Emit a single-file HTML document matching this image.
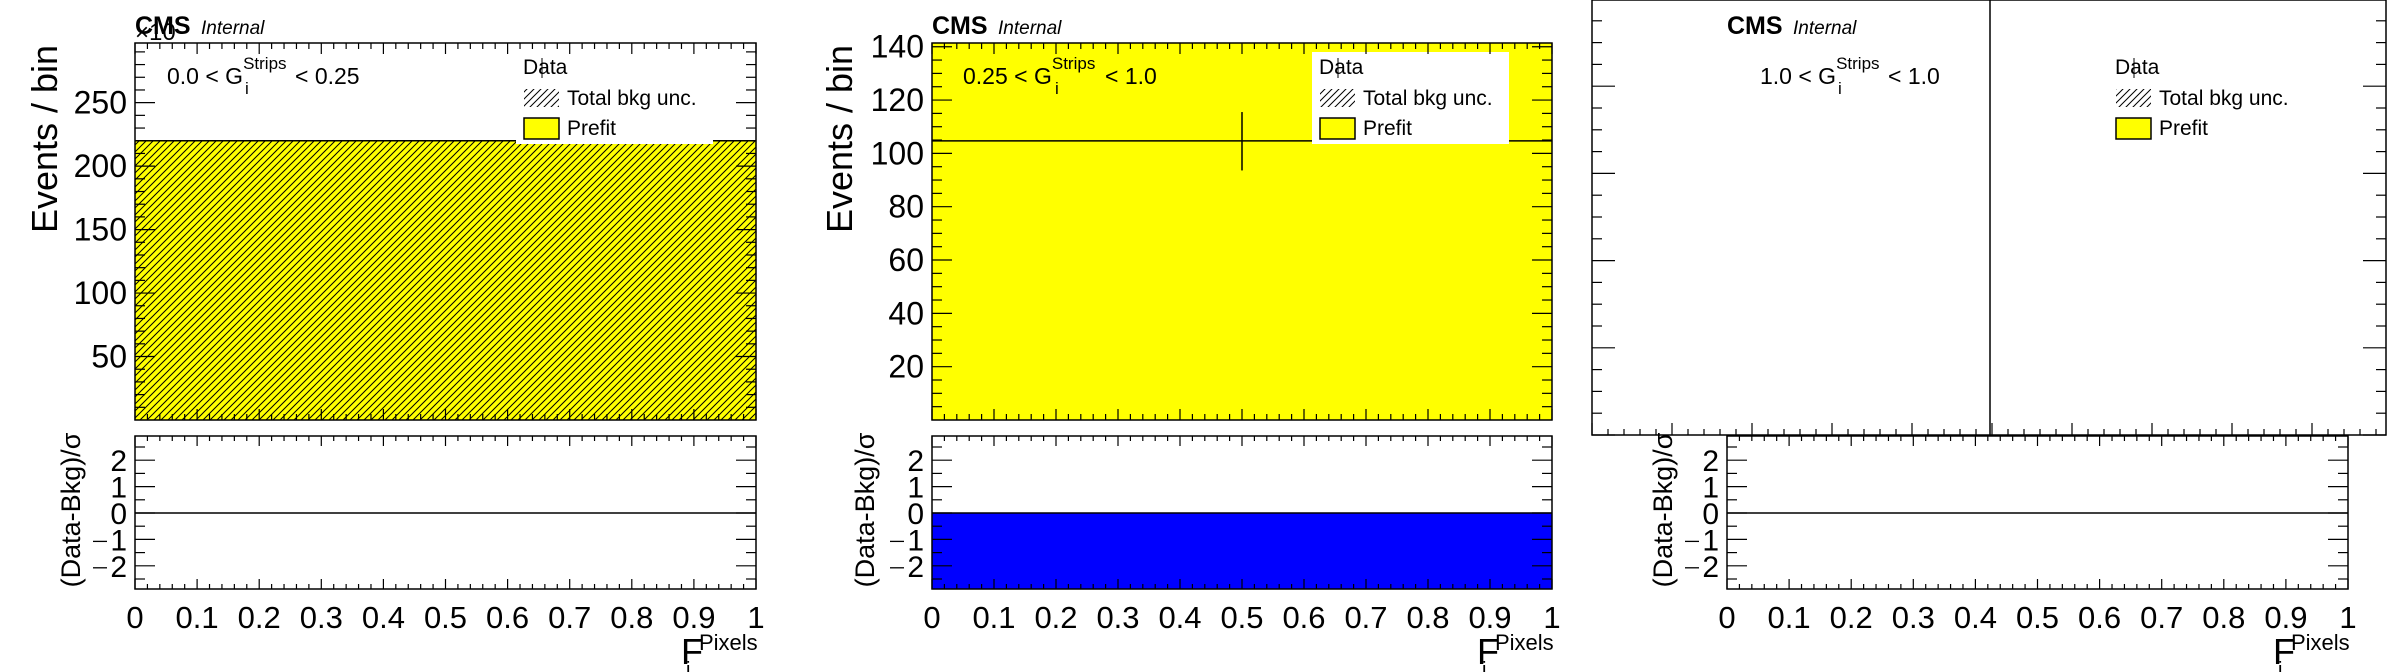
<!DOCTYPE html>
<html><head><meta charset="utf-8">
<style>
html,body{margin:0;padding:0;background:#fff;}
svg{display:block;font-family:"Liberation Sans",sans-serif;}
</style></head>
<body>
<svg id="c" width="2388" height="672" viewBox="0 0 2388 672" xmlns="http://www.w3.org/2000/svg">
<defs>
<pattern id="hatch" patternUnits="userSpaceOnUse" width="7" height="7">
<path d="M-1,8 L8,-1 M-1,1 L1,-1 M6,8 L8,6" stroke="#000" stroke-width="1"/>
</pattern>
</defs>
</svg>
<script>
// ---- data ----
const binEdges = [0, 1];
const xTickLabels = ["0","0.1","0.2","0.3","0.4","0.5","0.6","0.7","0.8","0.9","1"];
const panelLabels = ["0.0 < G", "0.25 < G", "1.0 < G"];
const panelLabelTails = ["< 0.25", "< 1.0", "< 1.0"];
const prefit1 = [220];
const prefit2 = [0];
const data2 = [104.7];
const data2ErrUp = [115.5];
const data2ErrDown = [93.6];
const pull1 = [0];
const pull2 = [-2.9];
const pull3 = [0];
const yMax1 = 297, yMax2 = 141.4;
const yTicks1 = [50,100,150,200,250];
const yTicks2 = [20,40,60,80,100,120,140];
const rTicks = [2,1,0,-1,-2];

const svg = document.getElementById('c');
const NS = "http://www.w3.org/2000/svg";
function el(tag, attrs, parent, text){
  const e = document.createElementNS(NS, tag);
  for (const k in attrs) e.setAttribute(k, attrs[k]);
  if (text !== undefined) e.textContent = text;
  (parent||svg).appendChild(e);
  return e;
}
function line(x1,y1,x2,y2,g,w){ return el('line',{x1,y1,x2,y2,stroke:'#000','stroke-width':w||1.5},g); }

function drawPanel(o){
  const g = el('g',{});
  
  
  const L=o.L,R=o.R,T=43,B=420, rT=436, rB=589;
  const X = v => L + (v-binEdges[0])/(binEdges[1]-binEdges[0])*(R-L);
  const Y = v => B - v/o.yMax*(B-T);
  const RY = v => 513 - v*26.4;

  if (o.upper){
    o.prefit.forEach((v,i)=>{
      if (v<=0) return;
      const r = el('rect',{x:X(binEdges[i]),y:Y(Math.min(v,o.yMax)),width:X(binEdges[i+1])-X(binEdges[i]),height:B-Y(Math.min(v,o.yMax)),fill:'#ffff00'},g);
      
      
      if (o.hatch){
        const h = el('rect',{x:X(binEdges[i]),y:Y(v),width:X(binEdges[i+1])-X(binEdges[i]),height:B-Y(v),fill:'url(#hatch)'},g);
        
        
        line(X(binEdges[i]),Y(v),X(binEdges[i+1]),Y(v),g,1.5);
      }
    });
    if (o.full) el('rect',{x:L,y:T,width:R-L,height:B-T,fill:'#ffff00'},g);
    if (o.data){
      o.data.forEach((v,i)=>{
        const cx=(X(binEdges[i])+X(binEdges[i+1]))/2;
        const dl = line(X(binEdges[i]),Y(v),X(binEdges[i+1]),Y(v),g,1.5);
        
        
        line(cx,Y(o.errUp[i]),cx,Y(o.errDown[i]),g,1.5);
      });
    }
    el('rect',{x:o.lx-7,y:o.lbTop,width:197,height:144-o.lbTop,fill:'#fff'},g);
    el('rect',{x:L,y:T,width:R-L,height:B-T,fill:'none',stroke:'#000','stroke-width':1.5},g);
    for (let v=o.minor; v<o.yMax; v+=(o.minor)){
      const major = o.yTicks.includes(Math.round(v));
      const len = major?20:10;
      line(L,Y(v),L+len,Y(v),g,1.2); line(R,Y(v),R-len,Y(v),g,1.2);
    }
    o.yTicks.forEach(v=>{
      const t = el('text',{x:L-8,y:Y(v)+11,'font-size':32,'text-anchor':'end'},g,String(v));
      
      
    });
    for (let k=0;k<=50;k++){
      const x = L + k/50*(R-L); const len = k%5===0?11:6;
      line(x,T,x,T+len,g,1.2); line(x,B,x,B-len,g,1.2);
    }
    const yt = el('text',{x:0,y:0,'font-size':36,'text-anchor':'middle',transform:`translate(${o.ytx},139) rotate(-90)`},g,'Events / bin');
    
    
  }
  const cms = el('text',{x:L,y:34,'font-size':25,'font-weight':'bold'},g,'CMS');
  
  
  el('text',{x:L+66,y:34,'font-size':19,'font-style':'italic'},g,'Internal');
  if (o.times){ el('text',{x:L,y:40,'font-size':24},g,'×10'); }
  const rl = el('text',{x:o.tx,y:84,'font-size':23},g);
  
  
  el('tspan',{},rl,panelLabels[o.idx]);
  el('tspan',{dy:-15,'font-size':17},rl,'Strips');
  el('text',{x:o.tx+o.gw,y:94,'font-size':17},g,'i');
  el('text',{x:o.tx+o.gw+50,y:84,'font-size':23},g,panelLabelTails[o.idx]);
  const lx=o.lx;
  const lg = el('g',{},g);
  
  
  el('text',{x:lx,y:74,'font-size':21},lg,'Data');
  line(lx+19,58,lx+19,78,lg,1);
  el('rect',{x:lx+1,y:89,width:35,height:18,fill:'url(#hatch)'},lg);
  el('text',{x:lx+44,y:105,'font-size':21},lg,'Total bkg unc.');
  el('rect',{x:lx+1,y:118,width:35,height:21,fill:'#ffff00',stroke:'#000','stroke-width':1.5},lg);
  el('text',{x:lx+44,y:135,'font-size':21},lg,'Prefit');

  const rL=o.rL,rR=o.rR;
  const RX = v => rL + (v-binEdges[0])/(binEdges[1]-binEdges[0])*(rR-rL);
  const rg = el('g',{},g);
  
  
  o.pull.forEach((v,i)=>{
    if (v===0) return;
    const top = RY(Math.max(v,0)), bot = RY(Math.min(v,0));
    const r = el('rect',{x:RX(binEdges[i]),y:top,width:RX(binEdges[i+1])-RX(binEdges[i]),height:Math.min(bot,rB)-top,fill:'#0000ff'},rg);
    
    
  });
  line(rL,RY(0),rR,RY(0),rg,1.5);
  el('rect',{x:rL,y:rT,width:rR-rL,height:rB-rT,fill:'none',stroke:'#000','stroke-width':1.5},rg);
  for (let v=-2.5; v<=2.6; v+=0.5){
    const major = Math.abs(v-Math.round(v))<0.01;
    const len = major?20:10;
    line(rL,RY(v),rL+len,RY(v),rg,1.2); line(rR,RY(v),rR-len,RY(v),rg,1.2);
  }
  rTicks.forEach(v=>{
    const t = el('text',{x:rL-8,y:RY(v)+11,'font-size':30,'text-anchor':'end'},rg,String(Math.abs(v)));
    
    
    if (v<0) line(rL-42,RY(v)+2,rL-28,RY(v)+2,rg,1.3);
  });
  for (let k=0;k<=50;k++){
    const x = rL + k/50*(rR-rL); const len = k%5===0?10:5;
    line(x,rT,x,rT+len,rg,1.2); line(x,rB,x,rB-len,rg,1.2);
  }
  xTickLabels.forEach((s,k)=>{
    const t = el('text',{x:rL+k/10*(rR-rL),y:628,'font-size':31,'text-anchor':'middle'},rg,s);
    
    
  });
  const rt = el('text',{x:0,y:0,'font-size':27,'text-anchor':'middle',transform:`translate(${o.rtx},510) rotate(-90)`},rg,'(Data-Bkg)/σ');
  
  
  const xt = el('text',{x:rR-75,y:664,'font-size':36},rg,'F');
  
  
  el('text',{x:rR-57,y:650,'font-size':22},rg,'Pixels');
  el('text',{x:rR-70,y:676,'font-size':20},rg,'i');
}

drawPanel({name:'panel-1',idx:0,upper:true,L:135,R:756,yMax:yMax1,yTicks:yTicks1,minor:10,prefit:prefit1,hatch:true,
  times:true,tx:167,gw:78,lx:523,lbTop:43,ytx:57,rL:135,rR:756,pull:pull1,rtx:80});
drawPanel({name:'panel-2',idx:1,upper:true,L:932,R:1552,yMax:yMax2,yTicks:yTicks2,minor:5,prefit:prefit2,full:true,
  data:data2,errUp:data2ErrUp,errDown:data2ErrDown,tx:963,gw:92,lx:1319,lbTop:52,ytx:852,rL:932,rR:1552,pull:pull2,rtx:874});

(function(){
  const g = el('g',{});
  
  
  const L=1592,R=2386,T=0,B=435;
  el('rect',{x:L,y:T,width:R-L,height:B-T,fill:'none',stroke:'#000','stroke-width':1.5},g);
  line(1990,0,1990,B,g,1.5);
  for (let k=0;k<=20;k++){
    const y = B - k*21.8; const len = k%4===0?23:10;
    line(L,y,L+len,y,g,1.2); line(R,y,R-len,y,g,1.2);
  }
  for (let k=0;k<=50;k++){
    const x = L + k*16; const len = k%5===0?12:6;
    if (x<R) line(x,B,x,B-len,g,1.2);
  }
})();
drawPanel({name:'panel-3',idx:2,upper:false,L:1727,R:2348,tx:1760,gw:78,lx:2115,rL:1727,rR:2348,pull:pull3,rtx:1672});
</script>
</body></html>
